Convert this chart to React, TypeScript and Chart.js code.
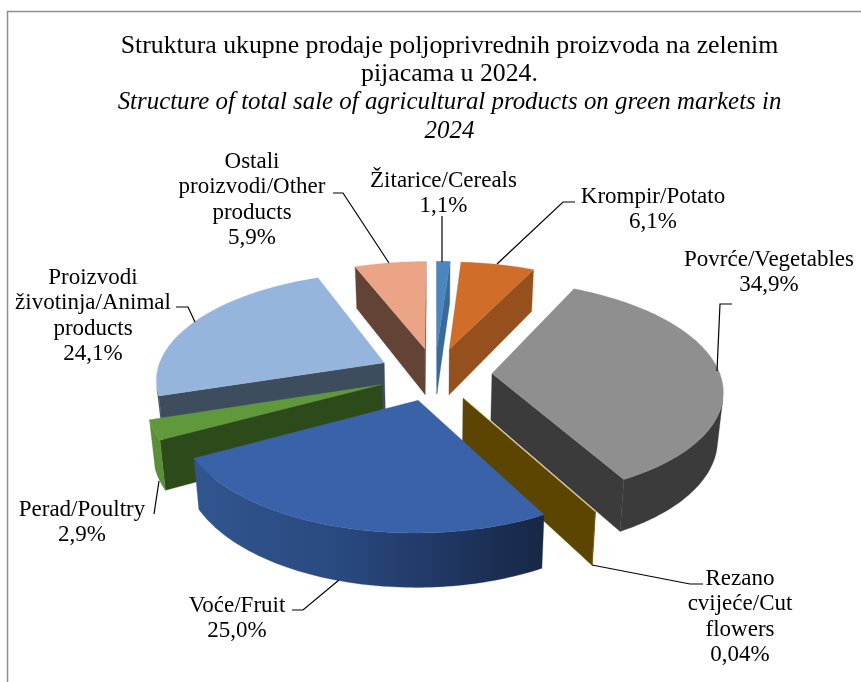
import React, { useEffect, useRef } from "react";
import { Chart, registerables } from "chart.js";

Chart.register(...registerables);

// ---- data ----
const categories = [
  "Žitarice/Cereals",
  "Krompir/Potato",
  "Povrće/Vegetables",
  "Rezano cvijeće/Cut flowers",
  "Voće/Fruit",
  "Perad/Poultry",
  "Proizvodi životinja/Animal products",
  "Ostali proizvodi/Other products",
];
const shares = [1.1, 6.1, 34.9, 0.04, 25.0, 2.9, 24.1, 5.9];
const shareLabels = ["1,1%", "6,1%", "34,9%", "0,04%", "25,0%", "2,9%", "24,1%", "5,9%"];
const labelLines = [
  ["Žitarice/Cereals"],
  ["Krompir/Potato"],
  ["Povrće/Vegetables"],
  ["Rezano", "cvijeće/Cut", "flowers"],
  ["Voće/Fruit"],
  ["Perad/Poultry"],
  ["Proizvodi", "životinja/Animal", "products"],
  ["Ostali", "proizvodi/Other", "products"],
];
const titleLines = [
  "Struktura ukupne prodaje poljoprivrednih proizvoda na zelenim",
  "pijacama u 2024.",
];
const subtitleLines = [
  "Structure of total sale of agricultural products on green markets in",
  "2024",
];

// ---- styles ----
const topColors = ["#4a86bf", "#cf6d29", "#8f8f8f", "#bf9000", "#3a62a9", "#60983c", "#95b5dd", "#eba486"];
const edgeColors = ["#3a6a99", "#95501e", "#3b3b3b", "#5c4500", "#24406f", "#2d4a1a", "#3e4d5e", "#624336"];
const rimColors = ["#3a6a99", "#95501e", "#3b3b3b", "#5c4500", "#24406f", "#5a8f38", "#3e4d5e", "#624336"];
const drawOrder = [0, 7, 1, 6, 2, 5, 3, 4];

// ---- layout ----
const FONT = '"Liberation Serif", serif';
const LABEL_SIZE = 23;
const LABEL_LEADING = 25.4;
const VIEW = { cx: 435, cy: 374, rx: 228, ry: 106, persp: 0.14, perspLow: 0.11, explode: 0.25, depth: 47, lowShrink: 0.98 };
const labelAnchors = [
  { x: 443.5, y: 187 },
  { x: 653, y: 203 },
  { x: 769, y: 266 },
  { x: 740, y: 585 },
  { x: 237, y: 612 },
  { x: 82, y: 516 },
  { x: 93, y: 284 },
  { x: 252, y: 168 },
];
const leaderPaths = [
  [[442, 216], [442, 262]],
  [[575, 202], [563, 202], [497, 264]],
  [[732, 304], [720, 304], [717, 371]],
  [[703, 584], [690, 584], [592, 565]],
  [[292, 610], [303, 610], [339, 580]],
  [[154, 514], [159, 481]],
  [[176, 307], [188, 307], [195, 322]],
  [[333, 193], [343, 193], [389, 263]],
];

type P = { x: number; y: number };

function top(x: number, y: number): P {
  const w = 1 - VIEW.persp * y;
  return { x: VIEW.cx + (VIEW.rx * x) / w, y: VIEW.cy + (VIEW.ry * y) / w };
}
function low(x: number, y: number): P {
  const t = top(x, y);
  return {
    x: VIEW.cx + (t.x - VIEW.cx) * VIEW.lowShrink,
    y: t.y + VIEW.depth / (1 - VIEW.perspLow * y),
  };
}
function fillPoly(ctx: CanvasRenderingContext2D, pts: P[], color: any, seam = 0.3) {
  ctx.beginPath();
  pts.forEach((p, i) => (i ? ctx.lineTo(p.x, p.y) : ctx.moveTo(p.x, p.y)));
  ctx.closePath();
  ctx.fillStyle = color;
  ctx.fill();
  if (seam > 0) {
    ctx.strokeStyle = color;
    ctx.lineWidth = seam;
    ctx.stroke();
  }
}
function signedArea(q: P[]) {
  let s = 0;
  q.forEach((a, i) => {
    const b = q[(i + 1) % q.length];
    s += a.x * b.y - b.x * a.y;
  });
  return s;
}

const pie3d = {
  id: "pie3d",
  beforeDatasetsDraw(chart: any) {
    const ctx: CanvasRenderingContext2D = chart.ctx;
    const arcs = chart.getDatasetMeta(0).data;
    ctx.save();
    for (const i of drawOrder) {
      const { startAngle, endAngle } = arcs[i].getProps(["startAngle", "endAngle"], true);
      const mid = (startAngle + endAngle) / 2;
      const ox = Math.cos(mid) * VIEW.explode;
      const oy = Math.sin(mid) * VIEW.explode;
      const n = Math.max(1, Math.ceil((endAngle - startAngle) / 0.02));
      const rim: [number, number][] = [];
      for (let s = 0; s <= n; s++) {
        const a = startAngle + ((endAngle - startAngle) * s) / n;
        rim.push([ox + Math.cos(a), oy + Math.sin(a)]);
      }
      const topPts = [top(ox, oy), ...rim.map(([x, y]) => top(x, y))];
      let rimFill: any = rimColors[i];
      if (i === 4) {
        const xs = topPts.map((p) => p.x);
        const g = ctx.createLinearGradient(Math.min(...xs), 0, Math.max(...xs), 0);
        g.addColorStop(0, "#31558f");
        g.addColorStop(0.4, "#2a4a80");
        g.addColorStop(0.75, "#1f3560");
        g.addColorStop(1, "#172845");
        rimFill = g;
      }
      const wall = (a: number[], b: number[]) => [top(a[0], a[1]), top(b[0], b[1]), low(b[0], b[1]), low(a[0], a[1])];
      // radial cut faces
      const startQuad = wall([ox, oy], rim[0]);
      const endQuad = wall(rim[rim.length - 1], [ox, oy]);
      if (signedArea(startQuad) < 0) fillPoly(ctx, startQuad, edgeColors[i]);
      if (signedArea(endQuad) < 0) fillPoly(ctx, endQuad, edgeColors[i]);
      // outer face: one polygon per run of viewer-facing segments
      let run: [number, number][] = [];
      const flush = () => {
        if (run.length > 1) {
          const poly = [...run.map(([x, y]) => top(x, y)), ...[...run].reverse().map(([x, y]) => low(x, y))];
          fillPoly(ctx, poly, rimFill);
        }
        run = [];
      };
      for (let s = 0; s < rim.length - 1; s++) {
        if (signedArea(wall(rim[s], rim[s + 1])) < 0) {
          if (!run.length) run.push(rim[s]);
          run.push(rim[s + 1]);
        } else flush();
      }
      flush();
      fillPoly(ctx, topPts, topColors[i]);
    }

    // frame
    ctx.strokeStyle = "#8e8e8e";
    ctx.lineWidth = 1.5;
    ctx.beginPath();
    ctx.moveTo(7.5, 682);
    ctx.lineTo(7.5, 11.5);
    ctx.lineTo(861, 11.5);
    ctx.stroke();

    // leaders
    ctx.strokeStyle = "#000";
    ctx.lineWidth = 1.2;
    leaderPaths.forEach((path) => {
      ctx.beginPath();
      path.forEach(([x, y], j) => (j ? ctx.lineTo(x, y) : ctx.moveTo(x, y)));
      ctx.stroke();
    });

    // labels
    ctx.fillStyle = "#000";
    ctx.font = `${LABEL_SIZE}px ${FONT}`;
    ctx.textAlign = "center";
    ctx.textBaseline = "alphabetic";
    categories.forEach((_, i) => {
      const lines = [...labelLines[i], shareLabels[i]];
      lines.forEach((t, j) => ctx.fillText(t, labelAnchors[i].x, labelAnchors[i].y + j * LABEL_LEADING));
    });
    ctx.restore();
    return false;
  },
};

export default function App() {
  const ref = useRef<HTMLCanvasElement>(null);
  useEffect(() => {
    const chart = new Chart(ref.current!, {
      type: "pie",
      data: {
        labels: categories,
        datasets: [{ data: shares, backgroundColor: topColors, borderWidth: 0 }],
      },
      options: {
        animation: false,
        responsive: false,
        layout: { padding: { left: 38, top: 24 } },
        plugins: {
          legend: { display: false },
          tooltip: { enabled: false },
          title: {
            display: true,
            text: titleLines,
            fullSize: false,
            color: "#000",
            font: { family: FONT, size: 25.8, weight: "normal", lineHeight: 1.1 },
            padding: { top: 8, bottom: 0 },
          },
          subtitle: {
            display: true,
            text: subtitleLines,
            fullSize: false,
            color: "#000",
            font: { family: FONT, size: 24.9, weight: "normal", style: "italic", lineHeight: 1.14 },
            padding: { top: 0, bottom: 0 },
          },
        },
      } as any,
      plugins: [pie3d as any],
    });
    return () => chart.destroy();
  }, []);
  return (
    <canvas
      ref={ref}
      width={861}
      height={682}
      style={{ position: "absolute", left: 0, top: 0, display: "block", background: "#fff" }}
    />
  );
}
